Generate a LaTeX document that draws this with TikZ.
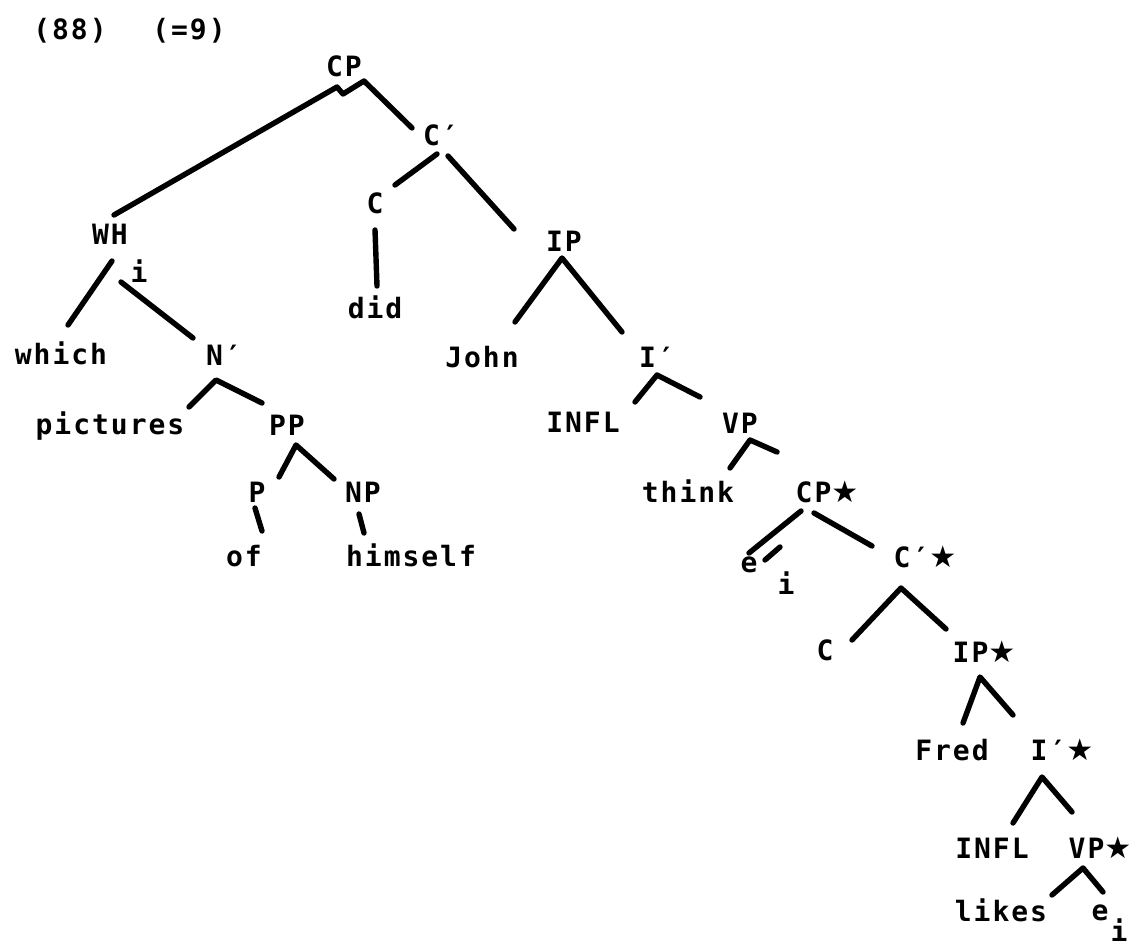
\documentclass[tikz,border=0pt]{standalone}
\usepackage{fontspec}
\newfontfamily\treefont[LetterSpace=7]{DejaVu Sans Mono}
\newfontfamily\starfont{DejaVu Sans}
\newcommand\tstar{{\starfont\fontsize{15}{15}\selectfont ★}}
\usetikzlibrary{calc}

\begin{document}
\begin{tikzpicture}[x=0.5pt,y=-0.5pt,
  word/.style={font=\treefont\bfseries\fontsize{14}{14}\selectfont,inner sep=0pt,
    text height=10.2pt,text depth=0pt},
  limb/.style={line width=2.7pt,line cap=round,line join=round}]
\useasboundingbox[fill=white] (0,0) rectangle (1129,952);

\node[word] (num) at (70,29) {(88)};
\node[word] (ref) at (189,29) {(=9)};

\node[word] (CP) at (344,66) {CP};
\node[word] (Cbar) at (441,135) {C′};
\node[word] (WH) at (110,234) {WH};
\node[word] (WHi) at (139,272) {i};
\node[word] (Chead) at (375,203) {C};
\node[word] (IP) at (564,241) {IP};
\node[word] (did) at (375,308) {did};
\node[word] (which) at (61,354) {which};
\node[word] (Nbar) at (224,355) {N′};
\node[word] (John) at (482,357) {John};
\node[word] (Ibar) at (657,357) {I′};
\node[word] (pictures) at (110,424) {pictures};
\node[word] (PP) at (287,425) {PP};
\node[word] (INFL) at (583,422) {INFL};
\node[word] (VP) at (740,423) {VP};
\node[word] (P) at (257,492) {P};
\node[word] (NP) at (363,492) {NP};
\node[word] (think) at (688,492) {think};
\node[word] (CPs) at (827,492) {CP\tstar};
\node[word] (of) at (244,556) {of};
\node[word] (himself) at (411,556) {himself};
\node[word] (e) at (749,562) {e};
\node[word] (ei) at (786,584) {i};
\node[word] (Cbars) at (925,557) {C′\tstar};
\node[word] (Cs) at (825,650) {C};
\node[word] (IPs) at (984,652) {IP\tstar};
\node[word] (Fred) at (952,750) {Fred};
\node[word] (Ibars) at (1062,750) {I′\tstar};
\node[word] (INFLs) at (992,848) {INFL};
\node[word] (VPs) at (1100,848) {VP\tstar};
\node[word] (likes) at (1001,911) {likes};
\node[word] (es) at (1100,910) {e};
\node[word] (esi) at (1119,931) {i};

\draw[limb] ($(WH)+(4,-19)$)
  -- ($(CP)+(-7,21)$)
  -- ($(CP)+(-1,28)$)
  -- ($(CP)+(20,15)$)
  -- ($(Cbar)+(-29,-7)$);
\draw[limb] ($(Cbar)+(-4,19)$) -- ($(Chead)+(20,-18)$);
\draw[limb] ($(Cbar)+(7,21)$) -- ($(IP)+(-50,-12)$);
\draw[limb] ($(Chead)+(0,27)$) -- ($(did)+(2,-22)$);

\draw[limb] ($(which)+(7,-29)$) -- ($(WH)+(2,27)$);
\draw[limb] ($(WH)+(11,48)$) -- ($(Nbar)+(-31,-17)$);
\draw[limb] ($(John)+(33,-35)$)
  -- ($(IP)+(-2,17)$)
  -- ($(Ibar)+(-35,-25)$);

\draw[limb] ($(pictures)+(79,-17)$)
  -- ($(Nbar)+(-8,25)$)
  -- ($(PP)+(-25,-22)$);
\draw[limb] ($(P)+(22,-15)$)
  -- ($(PP)+(9,20)$)
  -- ($(NP)+(-29,-13)$);
\draw[limb] ($(P)+(-2,16)$) -- ($(of)+(18,-25)$);
\draw[limb] ($(NP)+(-4,22)$) -- ($(himself)+(-47,-23)$);

\draw[limb] ($(INFL)+(52,-20)$)
  -- ($(Ibar)+(0,18)$)
  -- ($(VP)+(-40,-26)$);
\draw[limb] ($(think)+(42,-24)$)
  -- ($(VP)+(10,17)$)
  -- ($(CPs)+(-50,-40)$);
\draw[limb] ($(CPs)+(-26,19)$) -- ($(e)+(0,-9)$);
\draw[limb] ($(e)+(16,-2)$) -- ($(e)+(31,-15)$);
\draw[limb] ($(CPs)+(-13,21)$) -- ($(Cbars)+(-53,-11)$);

\draw[limb] ($(Cs)+(27,-10)$)
  -- ($(Cbars)+(-24,31)$)
  -- ($(IPs)+(-38,-23)$);
\draw[limb] ($(Fred)+(11,-27)$)
  -- ($(IPs)+(-4,25)$)
  -- ($(Ibars)+(-49,-35)$);
\draw[limb] ($(INFLs)+(21,-25)$)
  -- ($(Ibars)+(-20,27)$)
  -- ($(VPs)+(-28,-36)$);
\draw[limb] ($(likes)+(51,-16)$)
  -- ($(VPs)+(-17,20)$)
  -- ($(es)+(3,-18)$);
\end{tikzpicture}
\end{document}
